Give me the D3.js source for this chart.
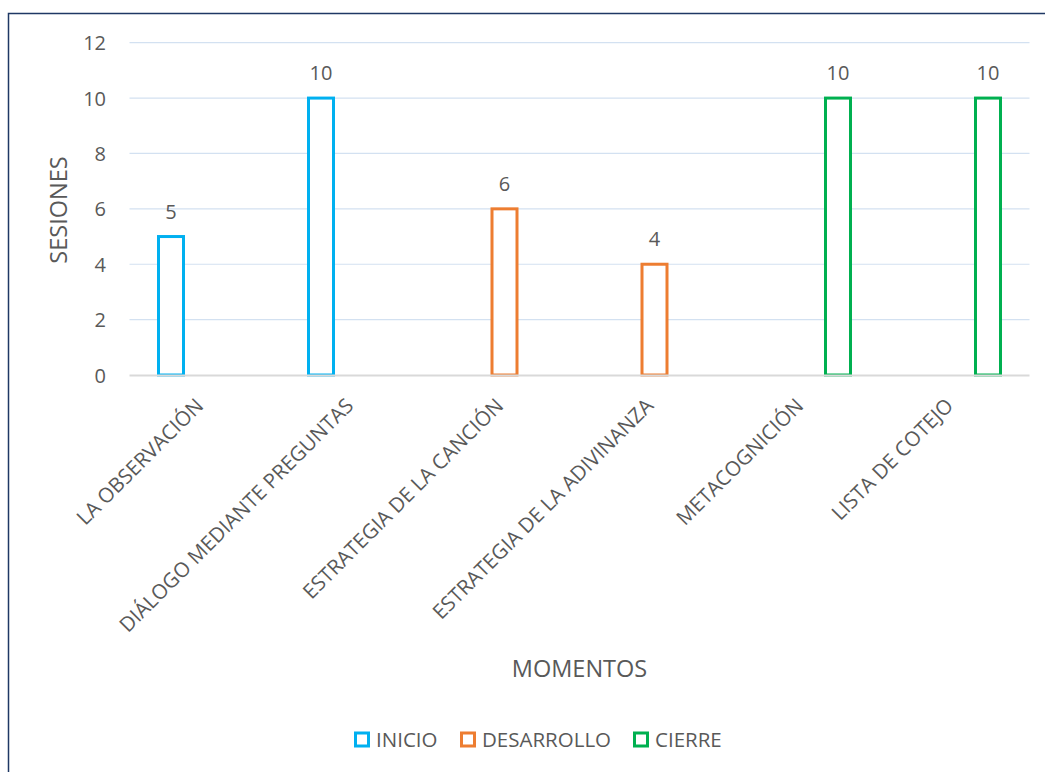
<!DOCTYPE html>
<html>
<head>
<meta charset="utf-8">
<script src="https://cdn.jsdelivr.net/npm/d3@7"></script>
<style>
  html, body { margin: 0; padding: 0; background: #fff; }
  svg { display: block; }
  text { font-family: "Open Sans", sans-serif; fill: #595959; }
</style>
</head>
<body>
<svg id="chart" width="1045" height="772"></svg>
<script>
// Categories (momentos / estrategias) and sessions per series
const categories = [
  "LA OBSERVACIÓN",
  "DIÁLOGO MEDIANTE PREGUNTAS",
  "ESTRATEGIA DE LA CANCIÓN",
  "ESTRATEGIA DE LA ADIVINANZA",
  "METACOGNICIÓN",
  "LISTA DE COTEJO"
];
const seriesNames = ["INICIO", "DESARROLLO", "CIERRE"];
const inicio     = [5, 10, 0, 0, 0, 0];
const desarrollo = [0, 0, 6, 4, 0, 0];
const cierre     = [0, 0, 0, 0, 10, 10];
const yTicks = [0, 2, 4, 6, 8, 10, 12];
const colors = ["#00B0F0", "#ED7D31", "#00B050"];

const seriesValues = [inicio, desarrollo, cierre];

const svg = d3.select("#chart");

// outer frame of the chart area
svg.append("rect")
  .attr("x", 8.5).attr("y", 13.5)
  .attr("width", 1100).attr("height", 800)
  .attr("fill", "none")
  .attr("stroke", "#1F3864")
  .attr("stroke-width", 1.5);

const plot = { left: 129.5, right: 1029.5, top: 42.7, bottom: 375 };

const x = d3.scaleBand().domain(categories).range([plot.left, plot.right]).padding(0);
const xs = d3.scalePoint().domain(seriesNames).range([-33.5, 33.5]);
const y = d3.scaleLinear().domain([0, 12]).range([plot.bottom, plot.top]);

// horizontal gridlines
svg.append("g")
  .selectAll("line")
  .data(yTicks.filter(t => t > 0))
  .join("line")
  .attr("x1", plot.left).attr("x2", plot.right)
  .attr("y1", d => y(d)).attr("y2", d => y(d))
  .attr("stroke", "#D3E1F1")
  .attr("stroke-width", 1.2);

// y axis tick labels
const yAxis = d3.axisLeft(y).tickValues(yTicks).tickSize(0).tickPadding(0);
const gy = svg.append("g")
  .attr("transform", `translate(${106},0)`)
  .call(yAxis);
gy.select(".domain").remove();
gy.selectAll("text")
  .attr("font-size", 20)
  .attr("font-family", "Open Sans, sans-serif")
  .attr("fill", "#595959")
  .attr("dy", "0.35em");

// flatten to bar records
const bars = [];
categories.forEach((c, i) => {
  seriesNames.forEach((s, j) => {
    const v = seriesValues[j][i];
    if (v > 0) bars.push({ cat: c, series: s, value: v, color: colors[j] });
  });
});

const barW = 25;

// bars (outlined, no fill)
svg.append("g")
  .selectAll("rect")
  .data(bars)
  .join("rect")
  .attr("x", d => x(d.cat) + x.bandwidth() / 2 + xs(d.series) - barW / 2)
  .attr("y", d => y(d.value))
  .attr("width", barW)
  .attr("height", d => y(0) - y(d.value))
  .attr("fill", "#fff")
  .attr("stroke", d => d.color)
  .attr("stroke-width", 3);

// category axis line
svg.append("line")
  .attr("x1", plot.left).attr("x2", plot.right)
  .attr("y1", y(0) + 0.5).attr("y2", y(0) + 0.5)
  .attr("stroke", "#D9D9D9")
  .attr("stroke-width", 1.8);

// data labels
svg.append("g")
  .selectAll("text")
  .data(bars)
  .join("text")
  .attr("x", d => x(d.cat) + x.bandwidth() / 2 + xs(d.series))
  .attr("y", d => y(d.value) - 18)
  .attr("text-anchor", "middle")
  .attr("font-size", 20)
  .text(d => d.value);

// category labels, rotated
svg.append("g")
  .selectAll("text")
  .data(categories)
  .join("text")
  .attr("transform", d => `translate(${x(d) + x.bandwidth() / 2 - 5},${402}) rotate(-45)`)
  .attr("text-anchor", "end")
  .attr("dy", "0.35em")
  .attr("font-size", 20.5)
  .text(d => d);

// axis titles
svg.append("text")
  .attr("transform", `translate(${67},${210}) rotate(-90)`)
  .attr("text-anchor", "middle")
  .attr("font-size", 23.5)
  .text("SESIONES");

svg.append("text")
  .attr("x", (plot.left + plot.right) / 2)
  .attr("y", 677)
  .attr("text-anchor", "middle")
  .attr("font-size", 23.5)
  .text("MOMENTOS");

// legend
const legendX = [355.5, 461.5, 634.5];
const legend = svg.append("g");
seriesNames.forEach((s, j) => {
  const g = legend.append("g").attr("transform", `translate(${legendX[j]},${733})`);
  g.append("rect")
    .attr("x", 0).attr("y", 0)
    .attr("width", 13).attr("height", 13)
    .attr("fill", "#fff")
    .attr("stroke", colors[j])
    .attr("stroke-width", 3);
  g.append("text")
    .attr("x", 20.5)
    .attr("y", 14)
    .attr("font-size", 20.5)
    .text(s);
});
</script>
</body>
</html>
